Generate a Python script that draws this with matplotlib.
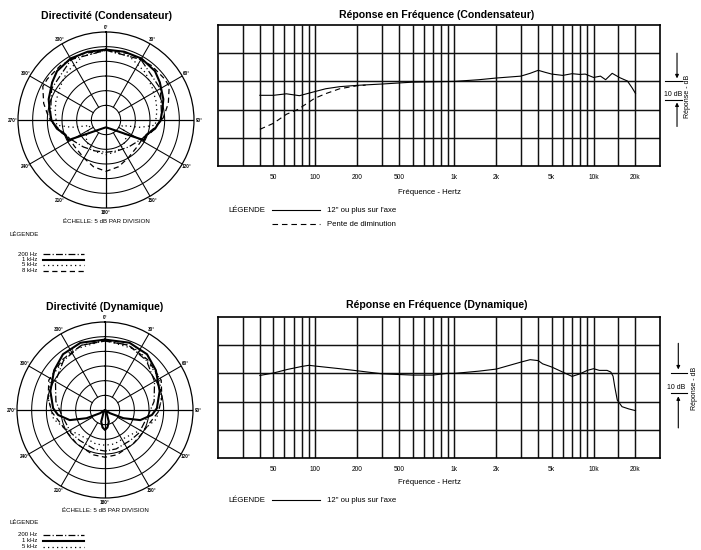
import numpy as np
import matplotlib
matplotlib.use('Agg')
import matplotlib.pyplot as plt
from matplotlib.lines import Line2D
from matplotlib.transforms import blended_transform_factory

plt.rcParams['font.family'] = ['Liberation Sans', 'DejaVu Sans']

# ---------------- data ----------------
# frequency response, condenser
cond_freq = [40, 50, 62, 77, 96, 119, 150, 200, 300, 500, 1000, 1500, 2000, 3000, 3500, 4000,
             4500, 5000, 6000, 7000, 8000, 8700, 10000, 11200, 12200, 13600, 15400, 17500, 18900, 20000]
cond_db = [-7.4, -7.4, -6.6, -7.6, -5.7, -3.9, -2.8, -2.1, -1.4, -0.4, 0.0, 0.9, 1.8, 2.8, 4.3, 5.9,
           4.8, 3.9, 3.2, 4.1, 3.7, 3.9, 2.1, 2.8, 0.9, 4.3, 2.0, 0.2, -3.4, -6.4]
cond_roll_freq = [40, 50, 62, 75, 99, 119, 150, 200, 230]
cond_roll_db = [-25.5, -22.3, -17.5, -14.9, -9.0, -6.5, -3.9, -2.3, -2.0]

# frequency response, dynamic
dyn_freq = [40, 50, 63, 80, 90, 100, 150, 200, 300, 500, 700, 880, 1000, 1500, 2000, 3000, 3500, 4000,
            4300, 5000, 6000, 7000, 8000, 9000, 10000, 11000, 12500, 13300, 13800, 14200, 14800, 16000,
            17900, 20000]
dyn_db = [-1.1, 0.2, 2.1, 3.7, 4.3, 3.9, 2.5, 1.4, -0.2, -0.9, -0.9, 0.0, 0.0, 1.2, 2.3, 6.0, 7.3, 6.8,
          5.1, 3.4, 0.7, -1.6, -0.2, 1.6, 2.5, 1.6, 1.6, 0.7, -1.5, -7.2, -14.2, -17.7, -18.9, -19.8]

grid_freqs = [30, 40, 50, 60, 70, 80, 90, 100, 200, 300, 400, 500, 600, 700, 800, 900,
              1000, 2000, 3000, 4000, 5000, 6000, 7000, 8000, 9000, 10000, 15000, 20000]
grid_db = [15, 0, -15, -30]
tick_pos = [50, 100, 200, 400, 1000, 2000, 5000, 10000, 20000]
tick_labels = ['50', '100', '200', '500', '1k', '2k', '5k', '10k', '20k']

# polar patterns (angle in degrees, level in dB)
c_1k_ang = [0, 15, 30, 45, 55, 70, 80, 90, 100, 110, 118, 121, 126, 138, 156, 180,
            204, 222, 234, 239, 242, 250, 260, 270, 280, 290, 305, 315, 330, 345, 360]
c_1k_db = [-1.0, -0.9, -0.8, -1.4, -2.6, -4.2, -5.5, -6.4, -8.0, -10.3, -10.4, -13.8, -17.0, -20.2, -21.8, -22.5,
           -21.8, -20.2, -17.0, -13.8, -10.4, -10.3, -8.0, -6.4, -5.5, -4.2, -2.6, -1.4, -0.8, -0.9, -1.0]
c_200_ang = [0, 30, 60, 90, 105, 120, 140, 160, 180, 200, 220, 240, 255, 270, 300, 330, 360]
c_200_db = [-1.2, -1.2, -3.6, -6.0, -9.0, -11.5, -13.0, -13.8, -14.0, -13.8, -13.0, -11.5, -9.0, -6.0, -3.6, -1.2, -1.2]
c_5k_ang = [0, 20, 40, 55, 70, 80, 96, 102, 109, 120, 130, 142, 160, 180,
            200, 218, 230, 240, 251, 258, 264, 280, 290, 305, 320, 340, 360]
c_5k_db = [-1.3, -1.8, -4.0, -5.8, -6.8, -7.4, -8.1, -13.0, -19.2, -18.0, -16.0, -14.9, -13.6, -13.2,
           -13.6, -14.9, -16.0, -18.0, -19.2, -13.0, -8.1, -7.4, -6.8, -5.8, -4.0, -1.8, -1.3]
c_8k_ang = [0, 20, 40, 55, 62, 75, 88, 100, 115, 130, 150, 165, 180,
            195, 210, 230, 245, 260, 272, 285, 298, 305, 320, 340, 360]
c_8k_db = [-1.2, -1.0, -0.8, -0.6, -0.6, -3.0, -5.5, -8.5, -10.9, -11.0, -10.0, -8.5, -7.5,
           -8.5, -10.0, -11.0, -10.9, -8.5, -5.5, -3.0, -0.6, -0.6, -0.8, -1.0, -1.2]

d_1k_ang = [0, 20, 37, 52, 71, 88, 96, 106, 114, 123, 132, 150, 162, 172, 180,
            188, 198, 210, 228, 237, 246, 254, 264, 272, 289, 308, 323, 340, 360]
d_1k_db = [-1.0, -0.6, -1.2, -3.0, -5.3, -7.3, -8.9, -12.5, -18.1, -23.0, -25.0, -24.0, -20.8, -19.0, -18.2,
           -19.0, -20.8, -24.0, -25.0, -23.0, -18.1, -12.5, -8.9, -7.3, -5.3, -3.0, -1.2, -0.6, -1.0]
d_200_ang = [0, 20, 40, 60, 80, 95, 110, 124, 140, 164, 180, 196, 220, 236, 250, 265, 280, 300, 320, 340, 360]
d_200_db = [-1.3, -1.5, -3.0, -5.5, -8.0, -10.0, -11.0, -11.0, -11.5, -11.2, -11.0,
            -11.2, -11.5, -11.0, -11.0, -10.0, -8.0, -5.5, -3.0, -1.5, -1.3]
d_5k_ang = [0, 30, 60, 80, 100, 115, 130, 147, 165, 180, 195, 213, 230, 245, 260, 280, 300, 330, 360]
d_5k_db = [-1.2, -1.6, -3.5, -5.5, -7.2, -10.0, -12.5, -13.4, -13.0, -13.0,
           -13.0, -13.4, -12.5, -10.0, -7.2, -5.5, -3.5, -1.6, -1.2]
d_8k_ang = [0, 20, 40, 62, 78, 92, 105, 120, 140, 165, 180, 195, 220, 240, 255, 268, 282, 298, 320, 340, 360]
d_8k_db = [-1.5, -1.5, -2.5, -3.3, -5.2, -6.8, -9.0, -10.0, -10.0, -9.2, -8.9,
           -9.2, -10.0, -10.0, -9.0, -6.8, -5.2, -3.3, -2.5, -1.5, -1.5]

ring_db = [-20, -15, -10, -5, 0]
spoke_deg = [30, 60, 120, 150, 210, 240, 300, 330]
axis_deg = [0, 90, 180, 270]
angle_labels = ['0°', '30°', '60°', '90°', '120°', '150°', '180°', '210°', '240°', '270°', '300°', '330°']

# ---------------- styles ----------------
ST_200 = dict(color='k', lw=0.9, dashes=(5.5, 1.8, 0.9, 1.8))
ST_1K = dict(color='k', lw=1.5)
ST_5K = dict(color='k', lw=0.9, dashes=(1.0, 2.6))
ST_8K = dict(color='k', lw=0.9, dashes=(4.2, 2.8))

W, H = 701, 550
fig = plt.figure(figsize=(W / 100, H / 100), dpi=100)
fig.patch.set_facecolor('white')


def fx(x):
    return x / W


def fy(y):
    return 1 - y / H


def polar_panel(cx, cy, title, curves, legend_rows, ytitle, yscale, yleg):
    R = 88
    ax = fig.add_axes([fx(cx - R), fy(cy + R), 2 * R / W, 2 * R / H], projection='polar')
    ax.set_theta_zero_location('N')
    ax.set_theta_direction(-1)
    ax.set_ylim(-25, 5)
    ax.set_xticks([])
    ax.set_yticks([])
    ax.grid(False)
    ax.spines['polar'].set_linewidth(0.9)
    th = np.linspace(0, 2 * np.pi, 721)
    for r in ring_db:
        ax.plot(th, np.full_like(th, r), color='k', lw=0.75)
    for a in spoke_deg:
        ax.plot([np.deg2rad(a)] * 2, [-20, 5], color='k', lw=0.75)
    for a in axis_deg:
        ax.plot([np.deg2rad(a)] * 2, [-25, 5], color='k', lw=0.9)
    for i, lab in enumerate(angle_labels):
        ax.text(np.deg2rad(30 * i), 6.7, lab, ha='center', va='center',
                fontsize=3.3, fontweight='bold')
    for ang, db, st in curves:
        ax.plot(np.deg2rad(ang), db, **st)
    fig.text(fx(cx), fy(ytitle), title, ha='center', va='center', fontsize=7.6, fontweight='bold')
    fig.text(fx(cx), fy(yscale), 'ÉCHELLE: 5 dB PAR DIVISION', ha='center', va='center', fontsize=4.4)
    fig.text(fx(10), fy(yleg), 'LÉGENDE', ha='left', va='center', fontsize=4.4)
    for yy, lab, st in legend_rows:
        fig.text(fx(37), fy(yy), lab, ha='right', va='center', fontsize=4.3)
        fig.add_artist(Line2D([fx(43), fx(84)], [fy(yy), fy(yy)], transform=fig.transFigure, **st))
    return ax


def freq_panel(top, title, series, legend_rows, ytitle, yxlabel, mk):
    left, right, bottom = 218, 660, top + 141
    ax = fig.add_axes([fx(left), fy(bottom), (right - left) / W, 141 / H])
    ax.set_xscale('log')
    ax.set_xlim(20, 30000)
    ax.set_ylim(-45, 30)
    ax.vlines(grid_freqs, -45, 30, color='#111111', lw=1.05)
    ax.hlines(grid_db, 20, 30000, color='#111111', lw=1.05)
    for f, d, st in series:
        ax.plot(f, d, **st)
    ax.xaxis.set_minor_locator(matplotlib.ticker.NullLocator())
    ax.set_xticks(tick_pos)
    ax.set_xticklabels(tick_labels)
    ax.tick_params(axis='x', length=0, pad=5.5, labelsize=4.8)
    ax.set_yticks([])
    for s in ax.spines.values():
        s.set_linewidth(1.2)
    fig.text(fx(437), fy(ytitle), title, ha='center', va='center', fontsize=7.6, fontweight='bold')
    fig.text(fx(429), fy(yxlabel), 'Fréquence - Hertz', ha='center', va='center', fontsize=5.6)
    # 10 dB marker on the right
    tr = blended_transform_factory(ax.transAxes, ax.transData)
    for yv in (0, mk['lo']):
        ax.plot(mk['line_x'], [yv, yv], transform=tr, clip_on=False, color='k', lw=0.8)
    ax.annotate('', xy=(mk['arrow_x'], mk['top'][1]), xytext=(mk['arrow_x'], mk['top'][0]),
                xycoords=tr, textcoords=tr,
                arrowprops=dict(arrowstyle='-|>', color='k', lw=0.8, mutation_scale=5, shrinkA=0, shrinkB=0))
    ax.annotate('', xy=(mk['arrow_x'], mk['bot'][1]), xytext=(mk['arrow_x'], mk['bot'][0]),
                xycoords=tr, textcoords=tr,
                arrowprops=dict(arrowstyle='-|>', color='k', lw=0.8, mutation_scale=5, shrinkA=0, shrinkB=0))
    ax.text(mk['text_x'], mk['text_y'], '10 dB', transform=tr, ha='center', va='center', fontsize=5.0)
    ax.text(mk['lab_x'], -8.0, 'Réponse - dB', transform=tr, ha='center', va='center', fontsize=5.0, rotation=90)
    # legend
    for i, (yy, lab, st) in enumerate(legend_rows):
        if i == 0:
            fig.text(fx(228), fy(yy), 'LÉGENDE', ha='left', va='center', fontsize=5.6)
        fig.add_artist(Line2D([fx(272), fx(320)], [fy(yy), fy(yy)], transform=fig.transFigure, **st))
        fig.text(fx(327), fy(yy), lab, ha='left', va='center', fontsize=5.6)
    return ax


# condenser polar
polar_panel(106, 120, 'Directivité (Condensateur)',
            [(c_200_ang, c_200_db, ST_200), (c_5k_ang, c_5k_db, ST_5K),
             (c_8k_ang, c_8k_db, ST_8K), (c_1k_ang, c_1k_db, ST_1K)],
            [(254, '200 Hz', ST_200), (259.5, '1 kHz', ST_1K), (265, '5 kHz', ST_5K), (270.7, '8 kHz', ST_8K)],
            16, 221.7, 234)

# dynamic polar
polar_panel(105, 410, 'Directivité (Dynamique)',
            [(d_200_ang, d_200_db, ST_200), (d_5k_ang, d_5k_db, ST_5K),
             (d_8k_ang, d_8k_db, ST_8K), (d_1k_ang, d_1k_db, ST_1K)],
            [(535, '200 Hz', ST_200), (540.7, '1 kHz', ST_1K), (546.7, '5 kHz', ST_5K)],
            307, 510.7, 522.7)

SOLID = dict(color='k', lw=0.8)
DASH = dict(color='k', lw=0.8, dashes=(5, 3.5))

freq_panel(25, 'Réponse en Fréquence (Condensateur)',
           [(cond_freq, cond_db, SOLID), (cond_roll_freq, cond_roll_db, DASH)],
           [(210, '12" ou plus sur l\'axe', SOLID), (224, 'Pente de diminution', DASH)],
           15, 193,
           dict(line_x=[1.0113, 1.0498], arrow_x=1.0385, lo=-10, top=(15, 1.6), bot=(-24, -11.2),
                text_x=1.029, text_y=-7.0, lab_x=1.062))

freq_panel(317, 'Réponse en Fréquence (Dynamique)',
           [(dyn_freq, dyn_db, SOLID)],
           [(500, '12" ou plus sur l\'axe', SOLID)],
           305, 483,
           dict(line_x=[1.0249, 1.0611], arrow_x=1.0414, lo=-10.5, top=(16, 2.1), bot=(-29, -12.2),
                text_x=1.036, text_y=-7.3, lab_x=1.077))

fig.savefig('out.png', dpi=100)
